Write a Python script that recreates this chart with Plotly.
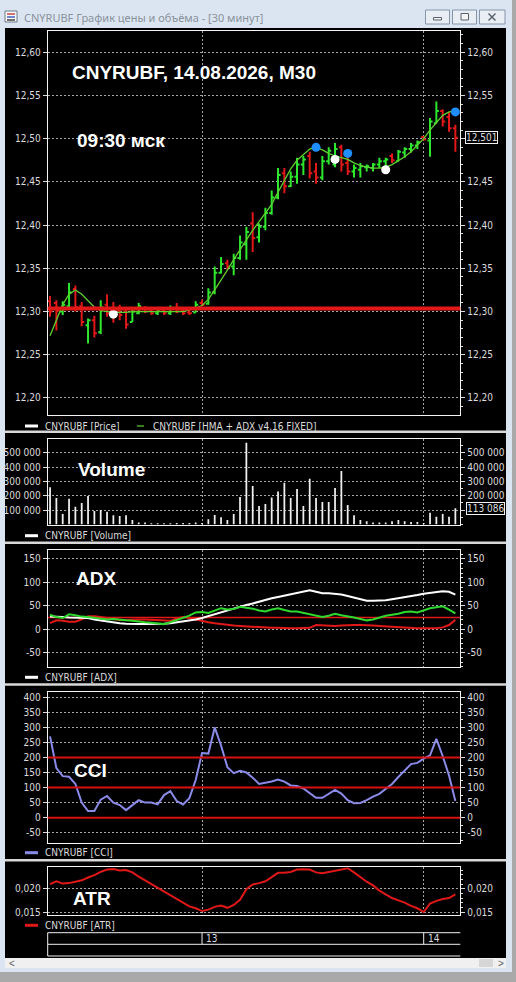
import plotly.graph_objects as go

W, H = 516, 982

# ---------------- data ----------------
bar_index = list(range(65))
day_breaks = [24, 59]
day_labels = ["13", "14"]

open_ = [12.312, 12.310, 12.300, 12.306, 12.326, 12.306, 12.284, 12.290, 12.276, 12.308,
         12.302, 12.301, 12.300, 12.288, 12.298, 12.304, 12.302, 12.298, 12.302, 12.298,
         12.304, 12.301, 12.299, 12.299, 12.310, 12.309, 12.322, 12.345, 12.356, 12.352,
         12.362, 12.378, 12.402, 12.386, 12.398, 12.414, 12.432, 12.460, 12.445, 12.456,
         12.470, 12.480, 12.462, 12.455, 12.474, 12.470, 12.490, 12.472, 12.462, 12.464,
         12.467, 12.466, 12.470, 12.474, 12.480, 12.474, 12.484, 12.488, 12.492, 12.502,
         12.498, 12.518, 12.532, 12.525, 12.512]
high = [12.318, 12.313, 12.312, 12.333, 12.330, 12.311, 12.292, 12.295, 12.313, 12.320,
        12.311, 12.308, 12.305, 12.304, 12.310, 12.306, 12.305, 12.304, 12.304, 12.307,
        12.310, 12.304, 12.302, 12.312, 12.314, 12.327, 12.352, 12.363, 12.360, 12.367,
        12.388, 12.398, 12.415, 12.402, 12.420, 12.440, 12.466, 12.466, 12.462, 12.478,
        12.480, 12.485, 12.472, 12.480, 12.490, 12.495, 12.493, 12.480, 12.470, 12.472,
        12.470, 12.472, 12.478, 12.478, 12.483, 12.487, 12.490, 12.495, 12.498, 12.503,
        12.524, 12.543, 12.534, 12.531, 12.516]
low = [12.294, 12.278, 12.296, 12.304, 12.300, 12.283, 12.263, 12.270, 12.274, 12.294,
       12.287, 12.290, 12.280, 12.288, 12.297, 12.298, 12.296, 12.296, 12.296, 12.296,
       12.298, 12.296, 12.296, 12.299, 12.306, 12.308, 12.320, 12.344, 12.348, 12.342,
       12.360, 12.360, 12.369, 12.380, 12.394, 12.412, 12.430, 12.437, 12.444, 12.448,
       12.458, 12.454, 12.448, 12.452, 12.470, 12.467, 12.462, 12.458, 12.455, 12.455,
       12.462, 12.462, 12.466, 12.466, 12.472, 12.474, 12.478, 12.484, 12.488, 12.498,
       12.479, 12.518, 12.514, 12.508, 12.485]
close = [12.300, 12.301, 12.308, 12.322, 12.305, 12.288, 12.290, 12.275, 12.305, 12.298,
         12.295, 12.296, 12.285, 12.300, 12.306, 12.300, 12.298, 12.302, 12.298, 12.304,
         12.300, 12.298, 12.298, 12.308, 12.308, 12.322, 12.345, 12.355, 12.352, 12.362,
         12.380, 12.392, 12.385, 12.398, 12.414, 12.432, 12.458, 12.445, 12.456, 12.470,
         12.476, 12.460, 12.455, 12.474, 12.486, 12.488, 12.470, 12.462, 12.466, 12.468,
         12.468, 12.470, 12.474, 12.476, 12.475, 12.485, 12.488, 12.492, 12.496, 12.499,
         12.520, 12.532, 12.520, 12.512, 12.501]
hma = [12.272, 12.290, 12.308, 12.320, 12.325, 12.320, 12.312, 12.305, 12.301, 12.300,
       12.299, 12.299, 12.299, 12.300, 12.300, 12.300, 12.300, 12.300, 12.300, 12.300,
       12.300, 12.300, 12.302, 12.304, 12.307, 12.314, 12.325, 12.336, 12.348, 12.360,
       12.372, 12.383, 12.394, 12.404, 12.414, 12.424, 12.438, 12.452, 12.465, 12.475,
       12.482, 12.488, 12.490, 12.487, 12.483, 12.480, 12.478, 12.476, 12.472, 12.469,
       12.467, 12.466, 12.466, 12.467, 12.470, 12.474, 12.479, 12.485, 12.492, 12.500,
       12.510, 12.519, 12.527, 12.531, 12.532]
price_level = 12.3035
blue_idx = [42, 47, 64]
blue_val = [12.490, 12.483, 12.531]
white_idx = [10, 45, 53]
white_val = [12.297, 12.476, 12.464]
last_price_text = "12,501"

volume = [258000, 184000, 72000, 179000, 123000, 149000, 198000, 93000, 100000, 88000,
          63000, 58000, 63000, 30000, 12000, 12000, 7000, 7000, 7000, 7000,
          9000, 9000, 9000, 12000, 10000, 35000, 65000, 49000, 30000, 72000,
          191000, 570000, 267000, 128000, 142000, 188000, 230000, 291000, 184000, 247000,
          128000, 319000, 184000, 156000, 156000, 253000, 372000, 135000, 63000, 30000,
          21000, 12000, 12000, 12000, 21000, 30000, 21000, 16000, 16000, 10000,
          81000, 53000, 72000, 53000, 113086]
last_volume_text = "113 086"

adx = [27, 27, 26, 25, 25, 24, 24, 21, 19, 16,
       14, 13, 12, 11, 11, 11, 11, 11, 12, 13,
       15, 16, 18, 21, 24, 28, 32, 36, 40, 45,
       49, 52, 55, 59, 62, 66, 69, 72, 75, 78,
       80, 83, 80, 77, 77, 76, 74, 71, 68, 64,
       61, 61, 61, 62, 64, 66, 68, 71, 73, 76,
       78, 79, 81, 80, 74]
plus_di = [31, 26, 24, 32, 30, 27, 26, 24, 22, 21,
           22, 20, 19, 18, 16, 15, 14, 13, 11, 15,
           20, 24, 29, 36, 37, 35, 40, 45, 42, 43,
           48, 46, 44, 40, 38, 42, 45, 41, 38, 38,
           35, 32, 28, 26, 29, 33, 30, 28, 25, 22,
           19, 21, 25, 29, 31, 33, 37, 38, 36, 40,
           45, 47, 49, 42, 34]
minus_di = [13, 19, 18, 16, 16, 21, 28, 28, 26, 24,
            22, 20, 20, 21, 21, 21, 20, 20, 19, 18,
            23, 26, 24, 21, 17, 15, 13, 11, 9, 8,
            7, 6, 6, 5, 4, 3, 3, 2, 2, 2,
            2, 3, 9, 8, 7, 7, 8, 9, 9, 9,
            9, 8, 7, 6, 5, 4, 3, 2, 2, 2,
            2, 2, 4, 9, 20]
adx_level = 25

cci = [270, 165, 138, 136, 112, 50, 22, 22, 60, 72,
       50, 42, 25, 42, 58, 50, 50, 44, 75, 88,
       55, 44, 65, 125, 215, 213, 300, 240, 168, 148,
       156, 150, 133, 112, 115, 120, 127, 120, 107, 105,
       97, 82, 66, 66, 78, 92, 80, 58, 48, 49,
       58, 70, 79, 97, 112, 135, 158, 178, 182, 196,
       207, 262, 205, 140, 55]
cci_levels = [200, 100, 0]

atr = [0.0210, 0.0216, 0.0211, 0.0212, 0.0215, 0.0218, 0.0224, 0.0229, 0.0236, 0.0241,
       0.0242, 0.0239, 0.0240, 0.0235, 0.0226, 0.0218, 0.0210, 0.0201, 0.0193, 0.0186,
       0.0178, 0.0169, 0.0162, 0.0158, 0.0152, 0.0155, 0.0161, 0.0164, 0.0159, 0.0165,
       0.0176, 0.0199, 0.0209, 0.0212, 0.0216, 0.0225, 0.0234, 0.0234, 0.0236, 0.0241,
       0.0242, 0.0241, 0.0235, 0.0233, 0.0236, 0.0238, 0.0242, 0.0244, 0.0235, 0.0225,
       0.0215, 0.0207, 0.0196, 0.0188, 0.0180, 0.0175, 0.0170, 0.0163, 0.0158, 0.0150,
       0.0168, 0.0174, 0.0178, 0.0180, 0.0188]

price_ticks = [12.20, 12.25, 12.30, 12.35, 12.40, 12.45, 12.50, 12.55, 12.60]
price_labels = ["12,20", "12,25", "12,30", "12,35", "12,40", "12,45", "12,50", "12,55", "12,60"]
vol_ticks = [100000, 200000, 300000, 400000, 500000]
vol_labels = ["100 000", "200 000", "300 000", "400 000", "500 000"]
adx_ticks = [-50, 0, 50, 100, 150]
adx_labels = ["-50", "0", "50", "100", "150"]
cci_ticks = [-50, 0, 50, 100, 150, 200, 250, 300, 350, 400]
cci_labels = ["-50", "0", "50", "100", "150", "200", "250", "300", "350", "400"]
atr_ticks = [0.015, 0.020]
atr_labels = ["0,015", "0,020"]

title_text = "CNYRUBF, 14.08.2026, M30"
time_text = "09:30 мск"
window_title = "CNYRUBF График цены и объёма - [30 минут]"

# ---------------- style / geometry ----------------
def fx(p):
    return p / W

def fy(p):
    return 1 - p / H

GREEN = "#2ee82e"
RED = "#e01818"
HMA_C = "#5fcf2f"
LAV = "#8a8ae8"
GRID = "#a8a8a8"
TXT = "#dcdcdc"
FRAME = "#dbe5f1"
SMALL = dict(family="Liberation Sans Narrow, DejaVu Sans Condensed, Liberation Sans", size=10, color=TXT)
BIG = dict(family="Liberation Sans, Arial", size=19, color="white")

XL, XR = 47.7, 460.3
XRANGE = [-0.37, 64.78]
panels = [  # top, bottom, range
    (31, 415, [12.1803, 12.6246]),
    (439.3, 525, [-4700, 593500]),
    (550, 667.3, [-81.2, 169.2]),
    (691.7, 843.3, [-85.2, 418.6]),
    (867.3, 915.3, [0.014292, 0.024592]),
]
minor_dt = [0.01, 50000, 10, 25, 0.001]
ticks_l = [(price_ticks, price_labels), (vol_ticks, vol_labels), (adx_ticks, adx_labels),
           (cci_ticks, cci_labels), (atr_ticks, atr_labels)]
ticks_r = [(price_ticks, [("" if t == "12,50" else t) for t in price_labels]),
           (vol_ticks, [("" if t == "100 000" else t) for t in vol_labels]),
           (adx_ticks, adx_labels), (cci_ticks, cci_labels), (atr_ticks, atr_labels)]

fig = go.Figure()
layout = dict(width=W, height=H, autosize=False,
              margin=dict(l=0, r=0, t=0, b=0, pad=0, autoexpand=False),
              paper_bgcolor=FRAME, plot_bgcolor="black", showlegend=False,
              hovermode=False)

for k, (top, bot, rng) in enumerate(panels):
    xa = "xaxis" if k == 0 else f"xaxis{k+1}"
    yl = 2 * k + 1
    yr = 2 * k + 2
    yl_name = "yaxis" if yl == 1 else f"yaxis{yl}"
    yr_name = f"yaxis{yr}"
    ylref = "y" if yl == 1 else f"y{yl}"
    xref = "x" if k == 0 else f"x{k+1}"
    layout[xa] = dict(domain=[fx(XL), fx(XR)], range=XRANGE, anchor=ylref,
                      tickmode="array", tickvals=day_breaks, showticklabels=False, ticks="",
                      showgrid=True, gridcolor=GRID, griddash="2px,2px", gridwidth=1,
                      zeroline=False, showline=True, linecolor="#f4f4f4", linewidth=1,
                      mirror=True, fixedrange=True, automargin=False,
                      rangeslider=dict(visible=False))
    tv, tt = ticks_l[k]
    layout[yl_name] = dict(domain=[fy(bot), fy(top)], range=rng, anchor=xref,
                           tickmode="array", tickvals=tv, ticktext=tt, ticks="outside",
                           ticklen=4, tickcolor=TXT, tickfont=SMALL, automargin=False,
                           showgrid=True, gridcolor=GRID, griddash="2px,2px", gridwidth=1,
                           zeroline=False, showline=True, linecolor="#f4f4f4", linewidth=1,
                           mirror=True, fixedrange=True)
    tv, tt = ticks_r[k]
    layout[yr_name] = dict(range=rng, overlaying=ylref, side="right", anchor=xref,
                           tickmode="array", tickvals=tv, ticktext=tt, ticks="outside",
                           ticklen=4, tickcolor=TXT, tickfont=SMALL, showgrid=False,
                           zeroline=False, showline=False, fixedrange=True, automargin=False,
                           minor=dict(tickmode="linear", dtick=minor_dt[k], ticks="outside",
                                      ticklen=2, tickcolor=TXT, showgrid=False))
    # invisible anchor trace so the right-hand axis is drawn
    fig.add_trace(go.Scatter(x=bar_index[:1], y=[rng[0]], xaxis=xref, yaxis=f"y{yr}",
                             mode="markers", marker=dict(opacity=0), hoverinfo="skip"))

fig.update_layout(**layout)

# price panel
fig.add_trace(go.Ohlc(x=bar_index, open=open_, high=high, low=low, close=close,
                      xaxis="x", yaxis="y", tickwidth=0.4,
                      increasing=dict(line=dict(color=GREEN, width=2)),
                      decreasing=dict(line=dict(color=RED, width=2))))
fig.add_trace(go.Scatter(x=bar_index, y=hma, xaxis="x", yaxis="y", mode="lines",
                         line=dict(color=HMA_C, width=1.3)))
fig.add_trace(go.Scatter(x=white_idx, y=white_val, xaxis="x", yaxis="y", mode="markers",
                         marker=dict(color="white", size=9, symbol="circle")))
fig.add_trace(go.Scatter(x=blue_idx, y=blue_val, xaxis="x", yaxis="y", mode="markers",
                         marker=dict(color="#1f8fff", size=9, symbol="circle")))

# volume
fig.add_trace(go.Bar(x=bar_index, y=volume, xaxis="x2", yaxis="y3", width=0.28,
                     marker=dict(color="#f0f0f0", line=dict(width=0))))

# ADX
fig.add_trace(go.Scatter(x=bar_index, y=minus_di, xaxis="x3", yaxis="y5", mode="lines",
                         line=dict(color=RED, width=2)))
fig.add_trace(go.Scatter(x=bar_index, y=adx, xaxis="x3", yaxis="y5", mode="lines",
                         line=dict(color="white", width=2)))
fig.add_trace(go.Scatter(x=bar_index, y=plus_di, xaxis="x3", yaxis="y5", mode="lines",
                         line=dict(color="#2fd82f", width=2)))

# CCI
fig.add_trace(go.Scatter(x=bar_index, y=cci, xaxis="x4", yaxis="y7", mode="lines",
                         line=dict(color=LAV, width=2)))
# ATR
fig.add_trace(go.Scatter(x=bar_index, y=atr, xaxis="x5", yaxis="y9", mode="lines",
                         line=dict(color=RED, width=2)))

shapes = []
ann = []

def rect(x0, y0, x1, y1, fill, line=None, lw=0, layer="below"):
    shapes.append(dict(type="rect", xref="paper", yref="paper", x0=fx(x0), x1=fx(x1),
                       y0=fy(y1), y1=fy(y0), fillcolor=fill, layer=layer,
                       line=dict(color=line or fill, width=lw)))

def hline(x0, x1, y, color, w=1, layer="above"):
    shapes.append(dict(type="line", xref="paper", yref="paper", x0=fx(x0), x1=fx(x1),
                       y0=fy(y), y1=fy(y), line=dict(color=color, width=w), layer=layer))

def vline(x, y0, y1, color, w=1, layer="above"):
    shapes.append(dict(type="line", xref="paper", yref="paper", x0=fx(x), x1=fx(x),
                       y0=fy(y0), y1=fy(y1), line=dict(color=color, width=w), layer=layer))

def text(x, y, s, font, xanchor="left", **kw):
    ann.append(dict(xref="paper", yref="paper", x=fx(x), y=fy(y), text=s, showarrow=False,
                    xanchor=xanchor, yanchor="middle", font=font, **kw))

# window chrome
rect(0, 0, 516, 982, FRAME)
rect(512, 0, 516, 982, "#a9a9a9")
rect(0, 972, 516, 982, "#a9a9a9")
rect(5, 28, 506, 958, "black")
rect(5, 958, 506, 968, "#f0f0f0")
rect(479, 959, 493, 967, "#d6d6d6")
for yy in (431.8, 542.8, 684.5, 860.2):
    hline(5, 506, yy, "#d8d8d8", 2.5)
# title bar icon & buttons
rect(5, 11, 17, 22, "white", "#6b7685", 1, "above")
hline(7, 15, 14, "#d04040", 1.5)
hline(7, 15, 17, "#4060c0", 1.5)
hline(7, 15, 20, "#404040", 1.5)
for bx0, bx1 in ((425.5, 449.5), (452.5, 476.5), (479.5, 505)):
    rect(bx0, 10, bx1, 24, "#e9eef5", "#8795a8", 1, "above")
rect(433.5, 17.5, 441.5, 20, "#f4f4f4", "#59626e", 1, "above")
rect(461, 13.5, 468.5, 20, "#f4f4f4", "#59626e", 1, "above")
shapes.append(dict(type="line", xref="paper", yref="paper", x0=fx(488.5), x1=fx(495.5),
                   y0=fy(13.5), y1=fy(20.5), line=dict(color="#59626e", width=1.5)))
shapes.append(dict(type="line", xref="paper", yref="paper", x0=fx(488.5), x1=fx(495.5),
                   y0=fy(20.5), y1=fy(13.5), line=dict(color="#59626e", width=1.5)))
text(22, 17.5, window_title, dict(family="Noto Sans, Liberation Sans", size=11, color="#8a929c"))
text(7, 963, "<", dict(family="Liberation Sans", size=10, color="#606060"))
text(496, 963, ">", dict(family="Liberation Sans", size=10, color="#606060"))

# level lines on data axes
shapes.append(dict(type="line", xref="x domain", yref="y", x0=0, x1=1, y0=price_level,
                   y1=price_level, line=dict(color=RED, width=4), layer="above"))
shapes.append(dict(type="line", xref="x3 domain", yref="y5", x0=0, x1=1, y0=adx_level,
                   y1=adx_level, line=dict(color=RED, width=1.5), layer="below"))
for lv in cci_levels:
    shapes.append(dict(type="line", xref="x4 domain", yref="y7", x0=0, x1=1, y0=lv,
                       y1=lv, line=dict(color="#d81010", width=2), layer="above"))

# big labels
text(70, 72, "<b>" + title_text + "</b>", BIG)
text(75, 140, "<b>" + time_text + "</b>", BIG)
text(76, 470, "<b>Volume</b>", BIG)
text(74, 578.5, "<b>ADX</b>", BIG)
text(72, 770.5, "<b>CCI</b>", BIG)
text(71, 898.5, "<b>ATR</b>", BIG)

# legends
legends = [(426, "white", 3, "CNYRUBF [Price]"), (535.7, "white", 3, "CNYRUBF [Volume]"),
           (677.3, "white", 3, "CNYRUBF [ADX]"), (852.7, LAV, 3, "CNYRUBF [CCI]"),
           (925.3, RED, 3, "CNYRUBF [ATR]")]
for yy, col, w, s in legends:
    hline(25, 38, yy, col, w)
    text(43, yy, s, SMALL)
hline(137, 144, 426, HMA_C, 1.2)
text(150.5, 426, "CNYRUBF [HMA + ADX v4.16 FIXED]", SMALL)

# last-value boxes on right axes
ann.append(dict(xref="paper", yref="y", x=fx(465), y=close[-1], text=last_price_text,
                showarrow=False, xanchor="left", yanchor="middle", font=SMALL,
                bgcolor="black", bordercolor="#f0f0f0", borderwidth=1, borderpad=0))
ann.append(dict(xref="paper", yref="y3", x=fx(465.5), y=volume[-1], text=last_volume_text,
                showarrow=False, xanchor="left", yanchor="middle", font=SMALL,
                bgcolor="black", bordercolor="#f0f0f0", borderwidth=1, borderpad=0))

# date scale box
hline(XL, XR, 932.7, "#f0f0f0")
hline(XL, XR, 944.3, "#f0f0f0")
hline(XL, XR, 956, "#f0f0f0")
vline(XL, 932.7, 956, "#f0f0f0")
for d, lab in zip(day_breaks, day_labels):
    shapes.append(dict(type="line", xref="x5", yref="paper", x0=d, x1=d, y0=fy(944.3),
                       y1=fy(932.7), line=dict(color="#f0f0f0", width=1)))
    ann.append(dict(xref="x5", yref="paper", x=d, y=fy(938.5), text=lab, showarrow=False,
                    xanchor="left", yanchor="middle", xshift=2, font=SMALL))

fig.update_layout(shapes=shapes, annotations=ann)
fig.write_html("out.html", config=dict(displayModeBar=False, staticPlot=True),
               post_script="document.body.style.margin='0';document.body.style.overflow='hidden';")
